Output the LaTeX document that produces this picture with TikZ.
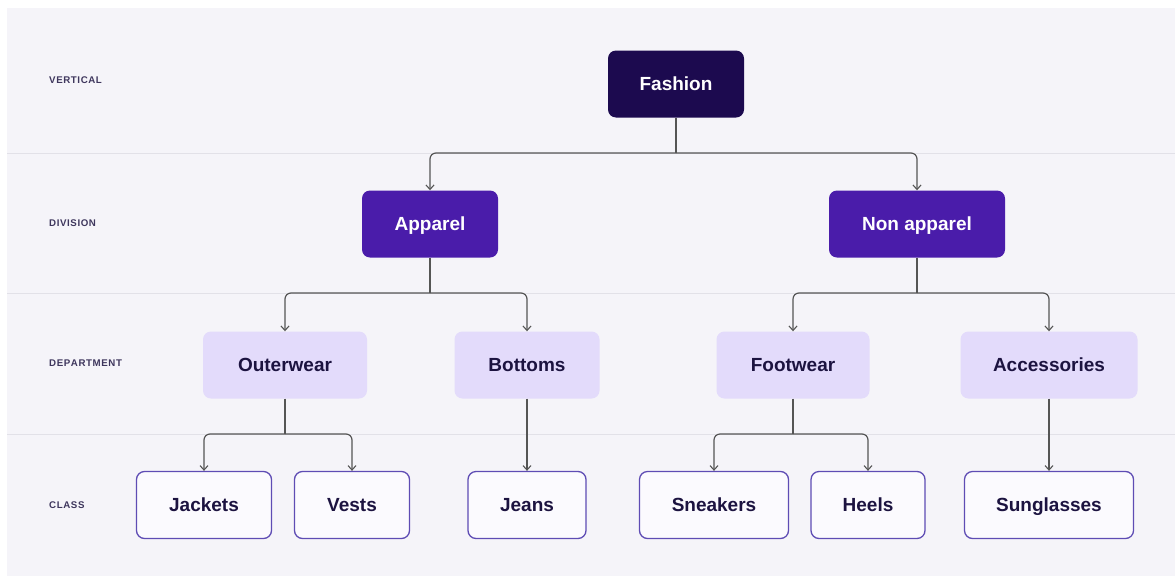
\documentclass[tikz,border=0pt]{standalone}
\usepackage{fontspec}
\setmainfont{Liberation Sans}
\usetikzlibrary{arrows.meta}
\definecolor{panel}{HTML}{F5F4F9}
\definecolor{rule}{HTML}{E2E1E8}
\definecolor{ink}{HTML}{1C1340}
\definecolor{topfill}{HTML}{1C0A4F}
\definecolor{divfill}{HTML}{4A1CAA}
\definecolor{depfill}{HTML}{E3DBFB}
\definecolor{clsfill}{HTML}{FBFAFE}
\definecolor{clsline}{HTML}{5E4CB4}
\definecolor{wire}{HTML}{555555}
\tikzset{
  box/.style={rounded corners=8pt, minimum height=67pt, inner sep=0pt,
    text height=13.6pt, text depth=0pt,
    font=\fontsize{19}{22}\selectfont\bfseries},
  topbox/.style={box, fill=topfill, text=white},
  divbox/.style={box, fill=divfill, text=white},
  depbox/.style={box, fill=depfill, text=ink},
  clsbox/.style={box, fill=clsfill, draw=clsline, line width=1.3pt, text=ink},
  level/.style={anchor=west, text=ink!85, inner sep=0pt,
    font=\fontsize{9.7}{11}\selectfont\bfseries},
  trunk/.style={draw=wire, line width=1.2pt},
  conn/.style={trunk, rounded corners=6pt,
    -{Straight Barb[length=4.5pt,width=8pt,line width=1.1pt]}},
}
\begin{document}
\begin{tikzpicture}[x=1pt,y=-1pt]
  \useasboundingbox (0,0) rectangle (1175,576);
  \fill[white] (0,0) rectangle (1175,576);
  \fill[panel] (7,8) rectangle (1175,576);
  % band separators
  \coordinate (b1) at (0,153);
  \coordinate (b2) at (0,293);
  \coordinate (b3) at (0,434);
  \foreach \b in {b1,b2,b3}
    \draw[rule, line width=1pt] (7,0 |- \b) -- (1175,0 |- \b);

  % level labels
  \node[level] (lv) at (49,80) {V\kern0.6pt E\kern0.6pt R\kern0.6pt T\kern0.6pt I\kern0.6pt C\kern0.6pt A\kern0.6pt L};
  \node[level] (ld) at (49,223) {D\kern0.6pt I\kern0.6pt V\kern0.6pt I\kern0.6pt S\kern0.6pt I\kern0.6pt O\kern0.6pt N};
  \node[level] (lp) at (49,363) {D\kern0.6pt E\kern0.6pt P\kern0.6pt A\kern0.6pt R\kern0.6pt T\kern0.6pt M\kern0.6pt E\kern0.6pt N\kern0.6pt T};
  \node[level] (lc) at (49,505) {C\kern0.6pt L\kern0.6pt A\kern0.6pt S\kern0.6pt S};

  % vertical
  \node[topbox, minimum width=136pt] (fashion) at (676,84) {Fashion};
  % divisions
  \node[divbox, minimum width=136pt] (apparel) at (430,224) {Apparel};
  \node[divbox, minimum width=176pt] (nonapp) at (917,224) {Non apparel};
  % departments
  \node[depbox, minimum width=164pt] (outer) at (285,365) {Outerwear};
  \node[depbox, minimum width=145pt] (bottoms) at (527,365) {Bottoms};
  \node[depbox, minimum width=153pt] (foot) at (793,365) {Footwear};
  \node[depbox, minimum width=177pt] (acc) at (1049,365) {Accessories};
  % classes
  \node[clsbox, minimum width=135pt] (jackets) at (204,505) {Jackets};
  \node[clsbox, minimum width=115pt] (vests) at (352,505) {Vests};
  \node[clsbox, minimum width=118pt] (jeans) at (527,505) {Jeans};
  \node[clsbox, minimum width=149pt] (sneakers) at (714,505) {Sneakers};
  \node[clsbox, minimum width=114pt] (heels) at (868,505) {Heels};
  \node[clsbox, minimum width=169pt] (sungl) at (1049,505) {Sunglasses};

  % connectors: vertical -> division
  \draw[trunk] (fashion.south) -- (fashion.south |- b1);
  \draw[conn] (fashion.south |- b1) -| (apparel.north);
  \draw[conn] (fashion.south |- b1) -| (nonapp.north);
  % division -> department
  \draw[trunk] (apparel.south) -- (apparel.south |- b2);
  \draw[conn] (apparel.south |- b2) -| (outer.north);
  \draw[conn] (apparel.south |- b2) -| (bottoms.north);
  \draw[trunk] (nonapp.south) -- (nonapp.south |- b2);
  \draw[conn] (nonapp.south |- b2) -| (foot.north);
  \draw[conn] (nonapp.south |- b2) -| (acc.north);
  % department -> class
  \draw[trunk] (outer.south) -- (outer.south |- b3);
  \draw[conn] (outer.south |- b3) -| (jackets.north);
  \draw[conn] (outer.south |- b3) -| (vests.north);
  \draw[conn] (bottoms.south) -- (jeans.north);
  \draw[trunk] (foot.south) -- (foot.south |- b3);
  \draw[conn] (foot.south |- b3) -| (sneakers.north);
  \draw[conn] (foot.south |- b3) -| (heels.north);
  \draw[conn] (acc.south) -- (sungl.north);
\end{tikzpicture}
\end{document}
